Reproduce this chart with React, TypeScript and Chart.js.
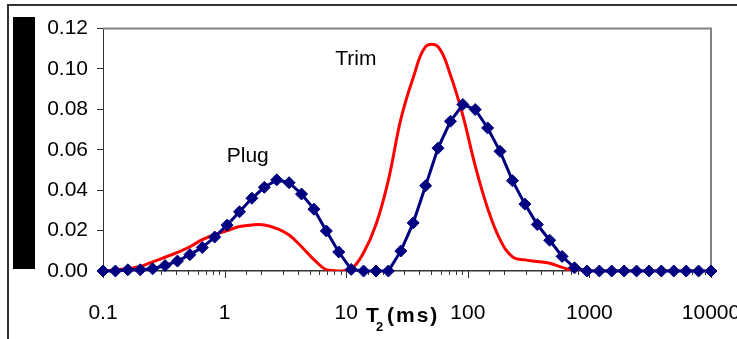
import { useEffect, useRef } from 'react';
import { Chart, registerables } from 'chart.js';

Chart.register(...registerables);

// T2 relaxation times (ms), log-spaced bins
const t2Ms = [
  0.1, 0.1265, 0.16, 0.2024, 0.256, 0.3237, 0.4095, 0.518, 0.6552, 0.8287,
  1.048, 1.326, 1.677, 2.121, 2.683, 3.393, 4.292, 5.429, 6.867, 8.686,
  10.99, 13.89, 17.58, 22.23, 28.12, 35.56, 44.98, 56.9, 71.97, 91.03,
  115.1, 145.6, 184.2, 233.0, 294.7, 372.8, 471.5, 596.4, 754.3, 954.1,
  1207, 1526, 1931, 2442, 3089, 3907, 4942, 6251, 7906, 10000,
];

// Plug distribution (navy, diamond markers)
const plugValues = [
  0, 0, 0.0006, 0.0006, 0.0011, 0.0027, 0.0049, 0.0081, 0.0116, 0.0168,
  0.0227, 0.0293, 0.036, 0.0414, 0.0451, 0.0437, 0.0381, 0.0306, 0.0198, 0.0094,
  0.0008, 0, 0, 0, 0.0099, 0.0238, 0.0422, 0.0608, 0.0741, 0.0824,
  0.0799, 0.0708, 0.0592, 0.0447, 0.0331, 0.023, 0.0152, 0.0072, 0.0016, 0,
  0, 0, 0, 0, 0, 0, 0, 0, 0, 0,
];

// Trim distribution (red, smooth line)
const trimValues = [
  0, 0.0005, 0.0012, 0.0022, 0.0045, 0.0068, 0.0092, 0.012, 0.0155, 0.018,
  0.02, 0.022, 0.0228, 0.0228, 0.021, 0.0178, 0.012, 0.0056, 0.0006, 0,
  0.001, 0.009, 0.023, 0.045, 0.075, 0.0956, 0.111, 0.111, 0.097, 0.077,
  0.052, 0.031, 0.0155, 0.007, 0.0055, 0.0047, 0.0038, 0.0018, 0, 0,
  0, 0, 0, 0, 0, 0, 0, 0, 0, 0,
];

const yTicks = [0, 0.02, 0.04, 0.06, 0.08, 0.1, 0.12];
const xDecadeLabels = ['0.1', '1', '10', '100', '1000', '10000'];
const seriesNames = ['Plug', 'Trim'];

const FONT = '"Liberation Sans", Arial, sans-serif';

const isDecade = (v: number) => {
  const lg = Math.log10(v);
  return Math.abs(lg - Math.round(lg)) < 1e-6;
};

const decorPlugin = {
  id: 'decor',
  beforeDatasetsDraw(chart: any) {
    const { ctx, chartArea: a, scales } = chart;
    const x = scales.x;
    ctx.save();
    ctx.strokeStyle = '#808080';
    ctx.lineWidth = 2;
    ctx.beginPath();
    ctx.moveTo(a.left, a.top);
    ctx.lineTo(a.right, a.top);
    ctx.lineTo(a.right, a.bottom);
    ctx.stroke();
    ctx.strokeStyle = '#333333';
    ctx.lineWidth = 1;
    for (const t of x.ticks) {
      const px = Math.round(x.getPixelForValue(t.value)) + 0.5;
      const len = isDecade(t.value) ? 7 : 4;
      ctx.beginPath();
      ctx.moveTo(px, a.bottom);
      ctx.lineTo(px, a.bottom + len);
      ctx.stroke();
    }
    ctx.restore();
  },
  afterDraw(chart: any) {
    const { ctx, scales } = chart;
    const x = scales.x;
    const y = scales.y;
    ctx.save();
    // outer frame
    ctx.strokeStyle = '#333333';
    ctx.lineWidth = 2;
    ctx.beginPath();
    ctx.moveTo(8, 340);
    ctx.lineTo(8, 5);
    ctx.lineTo(737, 5);
    ctx.stroke();
    // black block (y-axis title area)
    ctx.fillStyle = '#000000';
    ctx.fillRect(13, 17, 22, 252);
    // series annotations
    ctx.fillStyle = '#000000';
    ctx.font = `21px ${FONT}`;
    ctx.textAlign = 'center';
    ctx.textBaseline = 'alphabetic';
    ctx.fillText(seriesNames[0], x.getPixelForValue(1.55), y.getPixelForValue(0.054));
    ctx.fillText(seriesNames[1], x.getPixelForValue(12.0), y.getPixelForValue(0.102));
    // x axis title  T2 (ms)
    ctx.textAlign = 'left';
    ctx.font = `bold 21px ${FONT}`;
    ctx.fillText('T', 366, 322);
    ctx.font = `bold 13px ${FONT}`;
    ctx.fillText('2', 376, 331);
    ctx.font = `bold 21px ${FONT}`;
    (ctx as any).letterSpacing = '2px';
    ctx.fillText('(ms)', 387, 322);
    (ctx as any).letterSpacing = '0px';
    ctx.restore();
  },
};

export default function App() {
  const ref = useRef<HTMLCanvasElement | null>(null);

  useEffect(() => {
    document.body.style.margin = '0';
    const canvas = ref.current;
    if (!canvas) return;
    const chart = new Chart(canvas, {
      type: 'line',
      data: {
        datasets: [
          {
            label: seriesNames[0],
            data: t2Ms.map((t, i) => ({ x: t, y: plugValues[i] })),
            borderColor: '#000080',
            backgroundColor: '#000080',
            borderWidth: 3,
            pointStyle: 'rectRot',
            pointRadius: 6,
            pointBorderWidth: 1,
            pointBackgroundColor: '#000080',
            pointBorderColor: '#000080',
            tension: 0,
            clip: false,
          },
          {
            label: seriesNames[1],
            data: t2Ms.map((t, i) => ({ x: t, y: trimValues[i] })),
            borderColor: '#ff0000',
            borderWidth: 3,
            pointRadius: 0,
            tension: 0.4,
          },
        ],
      },
      options: {
        responsive: false,
        animation: false,
        events: [],
        layout: { padding: { top: 28.5, right: 26, bottom: 0, left: 0 } },
        plugins: {
          legend: { display: false },
          tooltip: { enabled: false },
          title: { display: false },
        },
        scales: {
          x: {
            type: 'logarithmic',
            min: 0.1,
            max: 10000,
            grid: { display: false },
            border: { display: true, color: '#333333', width: 1.5 },
            ticks: {
              autoSkip: false,
              maxRotation: 0,
              minRotation: 0,
              padding: 22,
              color: '#000000',
              font: { family: FONT, size: 21 },
              callback: (v: any) => {
                const n = Number(v);
                if (!isDecade(n)) return '';
                const idx = Math.round(Math.log10(n)) + 1;
                return xDecadeLabels[idx] ?? '';
              },
            },
            afterFit: (s: any) => {
              s.height = 68;
              s.paddingLeft = 0;
              s.paddingRight = 0;
            },
          },
          y: {
            type: 'linear',
            min: yTicks[0],
            max: yTicks[yTicks.length - 1],
            grid: {
              display: true,
              drawOnChartArea: false,
              drawTicks: true,
              tickLength: 6,
              color: '#333333',
            },
            border: { display: true, color: '#333333', width: 1 },
            afterBuildTicks: (s: any) => {
              s.ticks = yTicks.map((v) => ({ value: v }));
            },
            ticks: {
              padding: 9,
              color: '#000000',
              font: { family: FONT, size: 21 },
              callback: (v: any) => Number(v).toFixed(2),
            },
            afterFit: (s: any) => {
              s.width = 103;
              s.paddingTop = 0;
              s.paddingBottom = 0;
            },
          },
        },
      },
      plugins: [decorPlugin],
    } as any);
    return () => chart.destroy();
  }, []);

  return (
    <div style={{ width: 737, height: 339, position: 'relative' }}>
      <canvas ref={ref} width={737} height={339} style={{ display: 'block' }} />
    </div>
  );
}
